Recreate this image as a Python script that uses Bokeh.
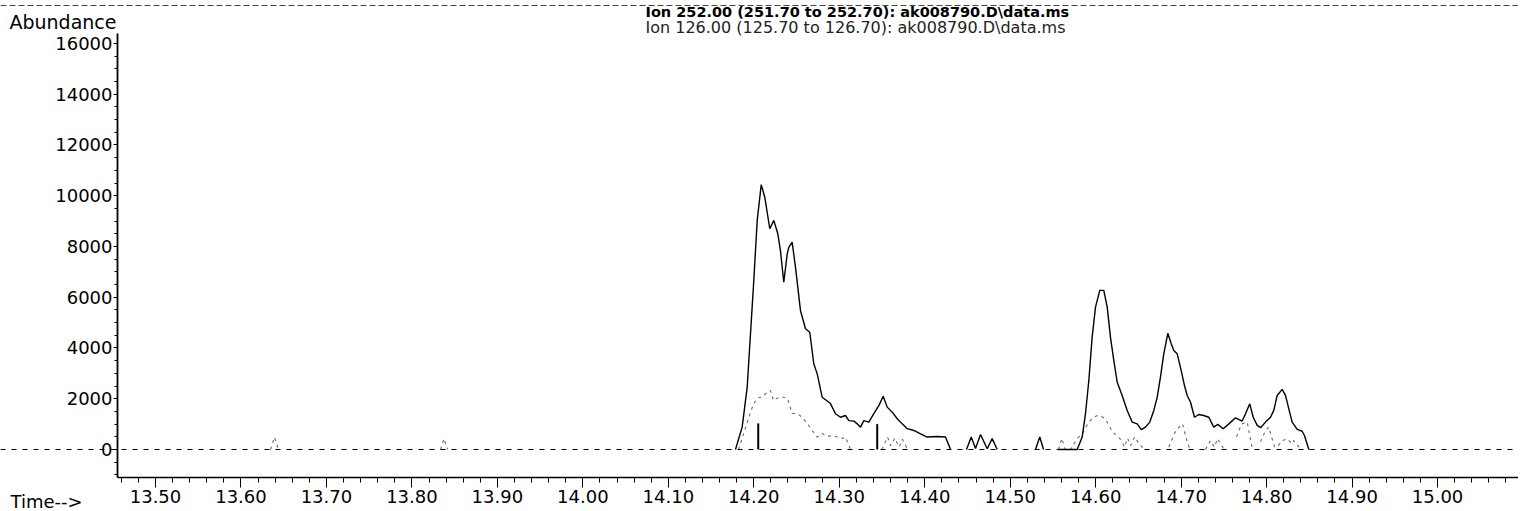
import math
from bokeh.plotting import figure
from bokeh.models import Range1d, SingleIntervalTicker, PrintfTickFormatter, Label, Span
from bokeh.embed import file_html
from bokeh.resources import INLINE

NaN = math.nan

# ---- data ----
# Ion 252.00 (solid trace); NaN separates stretches that sit on the baseline
ion252_time = [
    14.1786, 14.1864, 14.1923, 14.2000, 14.2040, 14.2087, 14.2129, 14.2187, 14.2234, 14.2281,
    14.2312, 14.2351, 14.2391, 14.2410, 14.2449, 14.2488, 14.2546, 14.2605, 14.2655, 14.2702,
    14.2742, 14.2800, 14.2851, 14.2897, 14.2956, 14.3015, 14.3073, 14.3112, 14.3170, 14.3210,
    14.3249, 14.3287, 14.3346, 14.3404, 14.3463, 14.3514, 14.3561, 14.3620, 14.3678, 14.3737,
    14.3795, 14.3872, 14.3951, 14.4029, 14.4146, 14.4243, 14.4302, NaN,
    14.4489, 14.4544, 14.4594, 14.4653, 14.4731, 14.4789, 14.4848, NaN,
    14.5296, 14.5346, 14.5390, NaN,
    14.5565, 14.5784, 14.5842, 14.5881, 14.5920, 14.5959, 14.5998, 14.6048, 14.6095, 14.6135,
    14.6173, 14.6212, 14.6252, 14.6310, 14.6369, 14.6427, 14.6486, 14.6533, 14.6583, 14.6633,
    14.6680, 14.6720, 14.6758, 14.6797, 14.6844, 14.6884, 14.6914, 14.6954, 14.7001, 14.7039,
    14.7071, 14.7110, 14.7156, 14.7207, 14.7265, 14.7324, 14.7382, 14.7429, 14.7492, 14.7558,
    14.7636, 14.7714, 14.7753, 14.7803, 14.7843, 14.7890, 14.7929, 14.7987, 14.8046, 14.8084,
    14.8124, 14.8182, 14.8221, 14.8260, 14.8299, 14.8358, 14.8416, 14.8443, 14.8494,
]
ion252_abund = [
    0, 880, 2460, 6660, 9030, 10440, 9940, 8700, 9030, 8500,
    7840, 6590, 7710, 7970, 8170, 7180, 5480, 4760, 4620, 3380,
    2980, 2060, 1930, 1810, 1410, 1270, 1340, 1140, 1120, 1010,
    880, 1140, 1080, 1410, 1730, 2100, 1670, 1470, 1210, 1010,
    820, 750, 620, 490, 510, 490, 0, NaN,
    0, 490, 40, 590, 30, 430, 0, NaN,
    0, 490, 0, NaN,
    0, 0, 490, 1410, 2720, 4430, 5610, 6270, 6270, 5610,
    4430, 3510, 2650, 2130, 1540, 1080, 1010, 780, 880, 1080,
    1540, 2060, 2850, 3770, 4580, 4170, 3900, 3770, 3110, 2520,
    2130, 1860, 1270, 1380, 1340, 1270, 880, 990, 820, 1010,
    1250, 1120, 1410, 1800, 1270, 950, 860, 1080, 1270, 1540,
    2130, 2370, 2130, 1600, 1080, 790, 720, 550, 0,
]

# Ion 126.00 (dotted trace)
ion126_time = [
    13.6346, 13.6392, 13.6439, NaN,
    13.8335, 13.8375, 13.8416, NaN,
    14.1821, 14.1938, 14.1997, 14.2055, 14.2098, 14.2157, 14.2195, 14.2230, 14.2289, 14.2347,
    14.2394, 14.2449, 14.2508, 14.2566, 14.2625, 14.2683, 14.2742, 14.2800, 14.2859, 14.2917,
    14.2976, 14.3034, 14.3073, 14.3131, NaN,
    14.3500, 14.3565, 14.3600, 14.3650, 14.3700, 14.3740, 14.3800, NaN,
    14.5565, 14.5604, 14.5643, 14.5706, 14.5784, 14.5846, 14.5905, 14.5963, 14.6021, 14.6068,
    14.6115, 14.6154, 14.6197, 14.6244, 14.6291, 14.6338, 14.6373, 14.6408, 14.6455, 14.6513,
    14.6572, 14.6642, NaN,
    14.6856, 14.6938, 14.7016, 14.7054, 14.7101, NaN,
    14.7285, 14.7343, 14.7390, 14.7425, 14.7472, 14.7507, NaN,
    14.7648, 14.7706, 14.7773, 14.7800, 14.7835, NaN,
    14.7929, 14.7987, 14.8026, 14.8058, 14.8093, 14.8124, 14.8182, 14.8240, 14.8299, 14.8318,
    14.8377, 14.8396,
]
ion126_abund = [
    0, 490, 0, NaN,
    0, 430, 0, NaN,
    0, 1220, 1810, 2050, 2060, 2260, 2330, 1930, 2050, 2060,
    2010, 1420, 1420, 1270, 1030, 750, 490, 630, 510, 550,
    490, 430, 490, 0, NaN,
    0, 490, 150, 450, 100, 400, 0, NaN,
    0, 440, 0, 0, 430, 630, 1000, 1250, 1340, 1300,
    1200, 950, 700, 550, 400, 100, 450, 150, 500, 200,
    0, 0, NaN,
    100, 750, 1010, 500, 0, NaN,
    0, 350, 100, 430, 150, 0, NaN,
    500, 1000, 1080, 600, 0, NaN,
    300, 750, 880, 500, 100, 100, 350, 420, 220, 350,
    100, 0,
]

# integration markers
marker_time = [14.2052, 14.3444]
marker_abund = [1030, 1000]

x_ticks_interval = 0.10
y_ticks_interval = 2000

title_252 = "Ion 252.00 (251.70 to 252.70): ak008790.D\\data.ms"
title_126 = "Ion 126.00 (125.70 to 126.70): ak008790.D\\data.ms"
y_label = "Abundance"
x_label = "Time-->"

# ---- layout (frame covers the whole canvas; axes sit at fixed locations) ----
W, H = 1518, 511
X_START, X_END = 13.31865, 15.09471
Y_START, Y_END = -2443.4, 17694.6
Y_AXIS_AT = 13.45554          # time where the abundance axis stands
X_AXIS_AT = -1103.5           # abundance where the time axis lies
Y_AXIS_TOP = 16394.0

FONT = "DejaVu Sans"

p = figure(width=W, height=H, output_backend="svg", toolbar_location=None,
           x_range=Range1d(X_START, X_END), y_range=Range1d(Y_START, Y_END),
           min_border=0, min_border_left=0, min_border_right=0,
           min_border_top=0, min_border_bottom=0)
p.outline_line_color = None
p.xgrid.visible = False
p.ygrid.visible = False
p.background_fill_color = "white"
p.border_fill_color = "white"

# axes
xa = p.xaxis[0]
xa.fixed_location = X_AXIS_AT
xa.bounds = (Y_AXIS_AT, X_END)
xa.ticker = SingleIntervalTicker(interval=x_ticks_interval, num_minor_ticks=5)
xa.formatter = PrintfTickFormatter(format="%.2f")
xa.axis_line_width = 1.6
xa.axis_line_color = "black"
xa.major_tick_out = 10
xa.major_tick_in = 0
xa.minor_tick_out = 5
xa.minor_tick_in = 0
xa.major_tick_line_color = "black"
xa.minor_tick_line_color = "black"
xa.major_label_standoff = 2
xa.major_label_text_font = FONT
xa.major_label_text_font_size = "18px"
xa.major_label_text_color = "black"

ya = p.yaxis[0]
ya.fixed_location = Y_AXIS_AT
ya.bounds = (X_AXIS_AT, Y_AXIS_TOP)
ya.ticker = SingleIntervalTicker(interval=y_ticks_interval, num_minor_ticks=4)
ya.axis_line_width = 1.8
ya.axis_line_color = "black"
ya.major_tick_out = 4
ya.major_tick_in = 0
ya.minor_tick_out = 3
ya.minor_tick_in = 0
ya.major_tick_line_color = "black"
ya.minor_tick_line_color = "black"
ya.major_label_standoff = 1
ya.major_label_text_font = FONT
ya.major_label_text_font_size = "18px"
ya.major_label_text_color = "black"

# baseline drawn dashed like the scan, and the dashed rule along the top edge
p.add_layout(Span(location=0, dimension="width", line_color="black",
                  line_width=1, line_dash="5 6"))
p.add_layout(Span(location=17498, dimension="width", line_color="#444444",
                  line_width=1, line_dash="6 3"))

p.line(ion126_time, ion126_abund, line_color="#6a6a6a", line_width=1.1, line_dash="3 4")
p.line(ion252_time, ion252_abund, line_color="black", line_width=1.4)
p.segment(x0=marker_time, y0=[0] * len(marker_time), x1=marker_time, y1=marker_abund,
          line_color="black", line_width=2)

# texts
p.add_layout(Label(x=Y_AXIS_AT, y=16828, x_offset=-1, text=y_label, text_align="right",
                   text_baseline="alphabetic", text_font=FONT, text_font_size="19px",
                   text_color="black"))
p.add_layout(Label(x=14.0733, y=17222, text=title_252, text_align="left",
                   text_baseline="alphabetic", text_font=FONT, text_font_size="14.5px",
                   text_font_style="bold", text_color="black"))
p.add_layout(Label(x=14.0733, y=16631, text=title_126, text_align="left",
                   text_baseline="alphabetic", text_font=FONT, text_font_size="16px",
                   text_color="#222222"))
p.add_layout(Label(x=13.33035, y=-2050, text=x_label, text_align="left",
                   text_baseline="alphabetic", text_font=FONT, text_font_size="18px",
                   text_color="black"))

open("out.html", "w").write(file_html(p, INLINE))
